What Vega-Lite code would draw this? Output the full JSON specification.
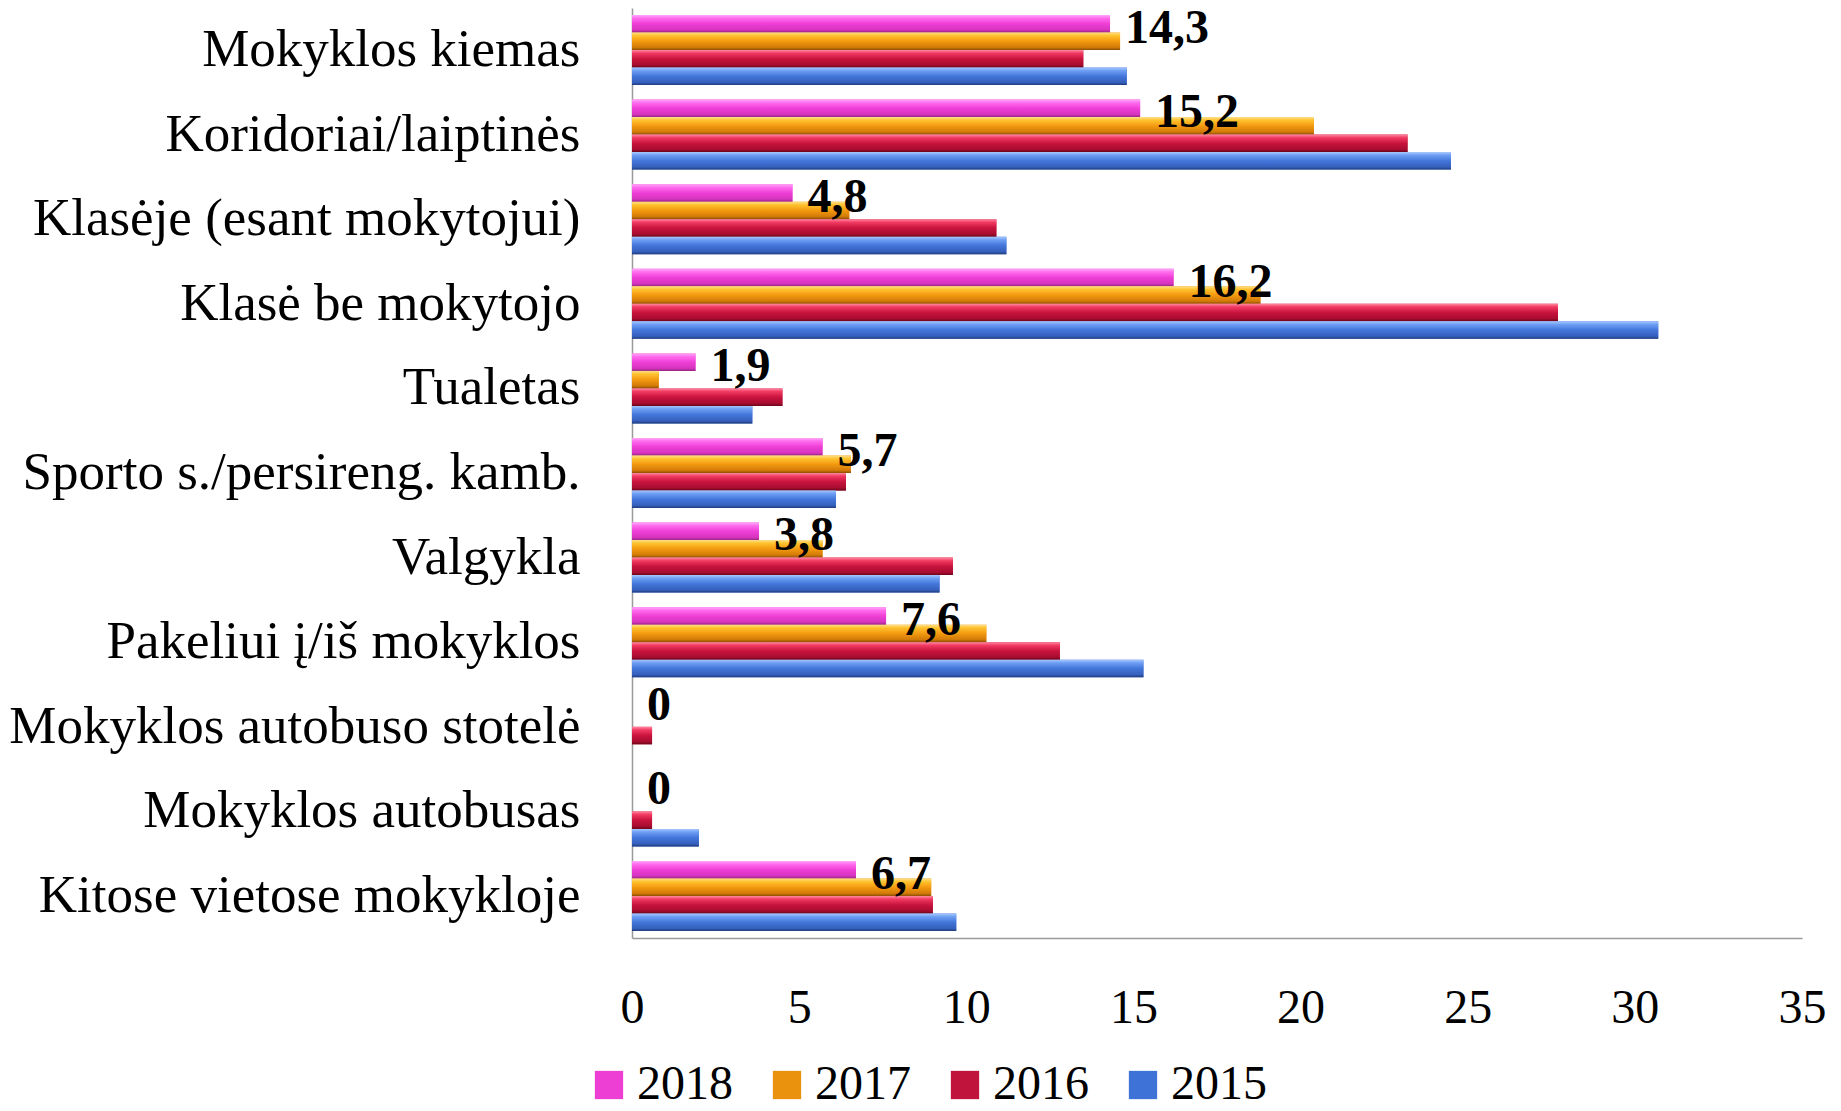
{
  "$schema": "https://vega.github.io/schema/vega-lite/v6.json",
  "autosize": {"type": "none"},
  "padding": {"left": 632, "top": 8, "right": 39, "bottom": 173},
  "width": 1170,
  "height": 930,
  "background": "white",
  "data": {
    "values": [
      {"place": "Mokyklos kiemas", "year": "2018", "value": 14.3},
      {"place": "Mokyklos kiemas", "year": "2017", "value": 14.6},
      {"place": "Mokyklos kiemas", "year": "2016", "value": 13.5},
      {"place": "Mokyklos kiemas", "year": "2015", "value": 14.8},
      {"place": "Koridoriai/laiptinės", "year": "2018", "value": 15.2},
      {"place": "Koridoriai/laiptinės", "year": "2017", "value": 20.4},
      {"place": "Koridoriai/laiptinės", "year": "2016", "value": 23.2},
      {"place": "Koridoriai/laiptinės", "year": "2015", "value": 24.5},
      {"place": "Klasėje (esant mokytojui)", "year": "2018", "value": 4.8},
      {"place": "Klasėje (esant mokytojui)", "year": "2017", "value": 6.5},
      {"place": "Klasėje (esant mokytojui)", "year": "2016", "value": 10.9},
      {"place": "Klasėje (esant mokytojui)", "year": "2015", "value": 11.2},
      {"place": "Klasė be mokytojo", "year": "2018", "value": 16.2},
      {"place": "Klasė be mokytojo", "year": "2017", "value": 18.8},
      {"place": "Klasė be mokytojo", "year": "2016", "value": 27.7},
      {"place": "Klasė be mokytojo", "year": "2015", "value": 30.7},
      {"place": "Tualetas", "year": "2018", "value": 1.9},
      {"place": "Tualetas", "year": "2017", "value": 0.8},
      {"place": "Tualetas", "year": "2016", "value": 4.5},
      {"place": "Tualetas", "year": "2015", "value": 3.6},
      {"place": "Sporto s./persireng. kamb.", "year": "2018", "value": 5.7},
      {"place": "Sporto s./persireng. kamb.", "year": "2017", "value": 6.55},
      {"place": "Sporto s./persireng. kamb.", "year": "2016", "value": 6.4},
      {"place": "Sporto s./persireng. kamb.", "year": "2015", "value": 6.1},
      {"place": "Valgykla", "year": "2018", "value": 3.8},
      {"place": "Valgykla", "year": "2017", "value": 5.7},
      {"place": "Valgykla", "year": "2016", "value": 9.6},
      {"place": "Valgykla", "year": "2015", "value": 9.2},
      {"place": "Pakeliui į/iš mokyklos", "year": "2018", "value": 7.6},
      {"place": "Pakeliui į/iš mokyklos", "year": "2017", "value": 10.6},
      {"place": "Pakeliui į/iš mokyklos", "year": "2016", "value": 12.8},
      {"place": "Pakeliui į/iš mokyklos", "year": "2015", "value": 15.3},
      {"place": "Mokyklos autobuso stotelė", "year": "2018", "value": 0},
      {"place": "Mokyklos autobuso stotelė", "year": "2017", "value": 0},
      {"place": "Mokyklos autobuso stotelė", "year": "2016", "value": 0.6},
      {"place": "Mokyklos autobuso stotelė", "year": "2015", "value": 0},
      {"place": "Mokyklos autobusas", "year": "2018", "value": 0},
      {"place": "Mokyklos autobusas", "year": "2017", "value": 0},
      {"place": "Mokyklos autobusas", "year": "2016", "value": 0.6},
      {"place": "Mokyklos autobusas", "year": "2015", "value": 2.0},
      {"place": "Kitose vietose mokykloje", "year": "2018", "value": 6.7},
      {"place": "Kitose vietose mokykloje", "year": "2017", "value": 8.95},
      {"place": "Kitose vietose mokykloje", "year": "2016", "value": 9.0},
      {"place": "Kitose vietose mokykloje", "year": "2015", "value": 9.7}
    ]
  },
  "encoding": {
    "y": {
      "field": "place",
      "type": "nominal",
      "sort": ["Mokyklos kiemas", "Koridoriai/laiptinės", "Klasėje (esant mokytojui)", "Klasė be mokytojo", "Tualetas", "Sporto s./persireng. kamb.", "Valgykla", "Pakeliui į/iš mokyklos", "Mokyklos autobuso stotelė", "Mokyklos autobusas", "Kitose vietose mokykloje"],
      "scale": {"paddingInner": 0.173, "paddingOuter": 0.083},
      "axis": {"title": null, "labelFontSize": 53, "labelPadding": 52, "labelLimit": 1000, "ticks": false}
    },
    "yOffset": {
      "field": "year",
      "type": "nominal",
      "sort": ["2018", "2017", "2016", "2015"],
      "scale": {"paddingInner": 0, "paddingOuter": 0}
    },
    "x": {
      "field": "value",
      "type": "quantitative",
      "scale": {"domain": [0, 35], "nice": false},
      "axis": {"title": null, "values": [0, 5, 10, 15, 20, 25, 30, 35], "labelFontSize": 48, "labelPadding": 46, "labelFlush": false, "labelOverlap": false, "ticks": false, "grid": false}
    }
  },
  "layer": [
    {
      "mark": {"type": "bar"},
      "encoding": {
        "color": {
          "field": "year",
          "type": "nominal",
          "scale": {"domain": ["2018", "2017", "2016", "2015"], "range": ["#ee3fd4", "#ea920e", "#c0143c", "#3e72d6"]},
          "legend": {
            "title": null,
            "orient": "none",
            "direction": "horizontal",
            "legendX": -47,
            "legendY": 1053,
            "symbolType": "square",
            "symbolSize": 800,
            "symbolStrokeWidth": 0,
            "labelFontSize": 48,
            "labelFont": "Liberation Serif",
            "labelColor": "black",
            "labelOffset": 4,
            "columnPadding": 30,
            "padding": 0
          }
        }
      }
    },
    {
      "transform": [{"filter": "datum.year == '2018'"}],
      "mark": {"type": "bar", "color": {"gradient": "linear", "x1": 0, "y1": 0, "x2": 0, "y2": 1, "stops": [{"offset": 0, "color": "#ffa8f6"}, {"offset": 0.18, "color": "#ff6cee"}, {"offset": 0.5, "color": "#ef3fd6"}, {"offset": 0.85, "color": "#d634bf"}, {"offset": 1, "color": "#96257f"}]}}
    },
    {
      "transform": [{"filter": "datum.year == '2017'"}],
      "mark": {"type": "bar", "color": {"gradient": "linear", "x1": 0, "y1": 0, "x2": 0, "y2": 1, "stops": [{"offset": 0, "color": "#ffe08a"}, {"offset": 0.18, "color": "#ffc22e"}, {"offset": 0.5, "color": "#f39a10"}, {"offset": 0.85, "color": "#d27a08"}, {"offset": 1, "color": "#8c4e05"}]}}
    },
    {
      "transform": [{"filter": "datum.year == '2016'"}],
      "mark": {"type": "bar", "color": {"gradient": "linear", "x1": 0, "y1": 0, "x2": 0, "y2": 1, "stops": [{"offset": 0, "color": "#ff8aa2"}, {"offset": 0.18, "color": "#f23a62"}, {"offset": 0.5, "color": "#c8143e"}, {"offset": 0.85, "color": "#a80c30"}, {"offset": 1, "color": "#6a0619"}]}}
    },
    {
      "transform": [{"filter": "datum.year == '2015'"}],
      "mark": {"type": "bar", "color": {"gradient": "linear", "x1": 0, "y1": 0, "x2": 0, "y2": 1, "stops": [{"offset": 0, "color": "#a9c8ff"}, {"offset": 0.18, "color": "#6e9ff4"}, {"offset": 0.5, "color": "#4376da"}, {"offset": 0.85, "color": "#3560bd"}, {"offset": 1, "color": "#213c7c"}]}}
    },
    {
      "transform": [{"filter": "datum.year == '2018'"}],
      "mark": {"type": "text", "align": "left", "baseline": "middle", "dx": 15, "dy": 5, "font": "Liberation Serif", "fontWeight": "bold", "fontSize": 48, "color": "black"},
      "encoding": {
        "text": {"field": "value", "type": "quantitative", "format": "~r"}
      }
    }
  ],
  "config": {
    "view": {"stroke": null},
    "axis": {"labelFont": "Liberation Serif", "labelColor": "black", "domainColor": "#9a9a9a", "domainWidth": 1.5},
    "locale": {"number": {"decimal": ",", "thousands": " ", "grouping": [3], "currency": ["", " €"]}}
  }
}
